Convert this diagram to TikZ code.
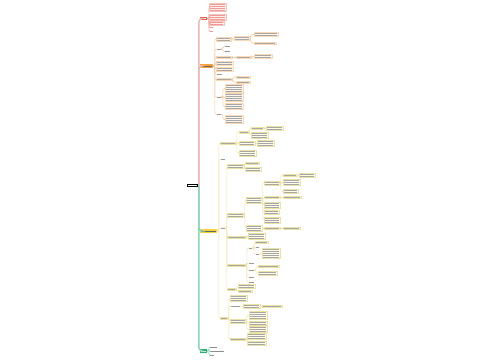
\documentclass[tikz,border=0pt]{standalone}
\usetikzlibrary{calc}
\definecolor{redm}{HTML}{E2574C}
\definecolor{redl}{HTML}{EFA9A2}
\definecolor{redf}{HTML}{FDEEEC}
\definecolor{orgm}{HTML}{F5A03A}
\definecolor{orgl}{HTML}{F6C89A}
\definecolor{orgf}{HTML}{FEF6EC}
\definecolor{yelm}{HTML}{F6D33C}
\definecolor{yell}{HTML}{EDE2A6}
\definecolor{yelf}{HTML}{FFFCEA}
\definecolor{grnm}{HTML}{2EAE6E}
\definecolor{grnl}{HTML}{8ED3B5}
\definecolor{spk}{HTML}{E9B9B3}
\newdimen\pxu \pxu=0.02cm
% unreadable text lines of a topic: #1 lines, #2 px wide
\newcommand\txl[2]{\vbox{\offinterlineskip\hbox{\rule{#2\pxu}{.5\pxu}}%
  \ifnum#1>1 \foreach\k in {2,...,#1}{\vskip1.5\pxu\hbox{\rule{#2\pxu}{.5\pxu}}}\fi}}
\tikzset{
  lf/.style={anchor=west, inner sep=.45pt, line width=.15pt},
  rootbox/.style={anchor=west, fill=black, text=white, inner sep=.6pt, minimum height=.07cm},
  mainbox/.style={anchor=west, text=black!60, inner sep=.6pt, minimum height=.07cm},
  rbox/.style={lf, fill=redf, draw=redl!70, text=redm!60},
  rpl/.style={lf, text=redm!60},
  obox/.style={lf, fill=orgf, draw=orgl!70, text=black!35},
  ybox/.style={lf, fill=yelf, draw=yell, text=black!35},
  pl/.style={lf, text=black!40},
  gpl/.style={lf, text=black!45},
  spup/.style={draw=spk, line width=.8pt, rounded corners=2pt},
  spdn/.style={draw=grnl, line width=.8pt, rounded corners=2pt},
  rln/.style={draw=redl, line width=.3pt, rounded corners=.8pt},
  oln/.style={draw=orgl, line width=.3pt, rounded corners=.8pt},
  yln/.style={draw=yell, line width=.3pt, rounded corners=.8pt},
  gln/.style={draw=grnl, line width=.3pt, rounded corners=.8pt}
}
\begin{document}
\begin{tikzpicture}[x=0.02cm,y=-0.02cm]
\useasboundingbox (0,0) rectangle (500,360);
% root and main topics
\node[rootbox] (root) at (187,185.5) {\txl{1}{9}};
\node[mainbox,fill=redm,text=white] (red) at (200,18.5) {\txl{1}{5}};
\node[mainbox,fill=orgm] (org) at (200,66) {\txl{1}{11}};
\node[mainbox,fill=yelm] (yel) at (200,231) {\txl{1}{15}};
\node[mainbox,fill=grnm,text=white] (grn) at (200,351) {\txl{1}{5}};
\draw[spup] (root.east) |- (red.west);
\draw[spup] (root.east) |- (org.west);
\draw[spdn] (root.east) |- (yel.west);
\draw[spdn] (root.east) |- (grn.west);

% red branch
\node[rbox] (r1) at (209,7) {\txl{4}{15}};
\node[rbox] (r2) at (209,17) {\txl{3}{15}};
\node[rbox] (r3) at (209,23.5) {\txl{2}{13}};
\node[rpl] (r4) at (209,27.5) {\txl{1}{3}};
\node[rpl] (r5) at (209,31) {\txl{1}{3}};
\foreach \c in {r1,r2,r3,r4,r5} \draw[rln] (red.east) -- ++(1,0) |- (\c.west);

% orange branch
\node[obox] (o1) at (216,39) {\txl{2}{13}};
\node[obox] (o1a) at (234,38.5) {\txl{2}{14}};
\node[obox] (o1a1) at (254,34.5) {\txl{2}{22}};
\node[obox] (o1a2) at (254,43) {\txl{1}{20}};
\node[pl] (o2) at (216,49) {\txl{1}{4}};
\node[pl] (o2a) at (224,46.5) {\txl{1}{5}};
\node[pl] (o2b) at (224,51.5) {\txl{1}{5}};
\node[obox] (o3) at (216,57) {\txl{1}{14}};
\node[obox] (o3a) at (236,57) {\txl{1}{13}};
\node[obox] (o3b) at (254,56.5) {\txl{2}{16}};
\node[obox] (o4) at (216,63) {\txl{2}{15}};
\node[obox] (o5) at (216,69) {\txl{2}{15}};
\node[pl] (o6) at (216,74) {\txl{1}{5}};
\node[obox] (o7) at (216,79.5) {\txl{1}{14}};
\node[obox] (o7a) at (236,77) {\txl{1}{12}};
\node[obox] (o7b) at (236,82) {\txl{1}{12}};
\node[pl] (o8) at (216,97) {\txl{1}{4}};
\node[obox] (o8a) at (225,88.5) {\txl{4}{16}};
\node[obox] (o8b) at (225,97.5) {\txl{4}{16}};
\node[obox] (o8c) at (225,106.5) {\txl{3}{16}};
\node[pl] (o9) at (216,114) {\txl{1}{4}};
\node[obox] (o9a) at (225,119.5) {\txl{4}{16}};
\foreach \c in {o1,o2,o3,o4,o5,o6,o7,o8,o9} \draw[oln] (org.east) -- ++(1,0) |- (\c.west);
\draw[oln] (o1.east) -- ++(1,0) |- (o1a.west);
\foreach \c in {o1a1,o1a2} \draw[oln] (o1a.east) -- ++(1,0) |- (\c.west);
\foreach \c in {o2a,o2b} \draw[oln] (o2.east) -- ++(1,0) |- (\c.west);
\draw[oln] (o3.east) -- (o3a.west);
\draw[oln] (o3a.east) -- ++(1,0) |- (o3b.west);
\foreach \c in {o7a,o7b} \draw[oln] (o7.east) -- ++(1,0) |- (\c.west);
\foreach \c in {o8a,o8b,o8c} \draw[oln] (o8.east) -- ++(1,0) |- (\c.west);
\draw[oln] (o9.east) -- ++(1,0) |- (o9a.west);

% yellow branch
\node[ybox] (ya) at (220,143) {\txl{1}{14}};
\node[ybox] (ya1) at (239,132) {\txl{1}{8}};
\node[ybox] (ya1a) at (251,128) {\txl{1}{11}};
\node[ybox] (ya1a1) at (266,128) {\txl{2}{15}};
\node[ybox] (ya1b) at (251,135) {\txl{3}{15}};
\node[ybox] (ya2) at (239,143.5) {\txl{2}{14}};
\node[ybox] (ya2a) at (257,143.5) {\txl{3}{15}};
\node[ybox] (ya3) at (239,153) {\txl{3}{15}};
\node[pl] (ys) at (220,159) {\txl{1}{4}};
\node[pl] (ym) at (220,228) {\txl{1}{4}};
\node[ybox] (ym1) at (227,166) {\txl{2}{15}};
\node[ybox] (ym1a) at (245,163) {\txl{1}{12}};
\node[ybox] (ym1b) at (245,169) {\txl{2}{14}};
\node[ybox] (ym2) at (227,215) {\txl{2}{15}};
\node[ybox] (ym2a) at (246,200) {\txl{3}{14}};
\node[ybox] (p1) at (264,183) {\txl{2}{14}};
\node[ybox] (p1a) at (283,175) {\txl{1}{12}};
\node[ybox] (p1a1) at (299,175) {\txl{2}{14}};
\node[ybox] (p1b) at (283,182.5) {\txl{3}{15}};
\node[ybox] (p1c) at (283,191.5) {\txl{2}{13}};
\node[ybox] (p2) at (264,197.5) {\txl{1}{14}};
\node[ybox] (p2a) at (283,197.5) {\txl{1}{16}};
\node[ybox] (p3) at (264,205) {\txl{3}{14}};
\node[ybox] (p4) at (264,212.5) {\txl{2}{13}};
\node[ybox] (p5) at (264,220) {\txl{3}{14}};
\node[ybox] (ym2b) at (246,228) {\txl{3}{14}};
\node[ybox] (ym2b1) at (264,228) {\txl{1}{14}};
\node[ybox] (ym2b2) at (283,228) {\txl{1}{15}};
\node[ybox] (ym3) at (227,237) {\txl{1}{17}};
\node[ybox] (ym3a) at (248,236.5) {\txl{3}{15}};
\node[ybox] (ym4) at (227,265) {\txl{1}{17}};
\node[pl] (q1) at (248,248) {\txl{1}{3}};
\node[ybox] (q1a) at (255,242.5) {\txl{1}{11}};
\node[pl] (q1b) at (255,247.5) {\txl{1}{3}};
\node[pl] (q1c) at (255,254) {\txl{1}{3}};
\node[ybox] (q1c1) at (262,253.5) {\txl{5}{16}};
\node[pl] (q2) at (248,263) {\txl{1}{5}};
\node[pl] (q3) at (248,270) {\txl{1}{5}};
\node[ybox] (q3a) at (258,266.5) {\txl{1}{19}};
\node[ybox] (q3b) at (258,273) {\txl{2}{17}};
\node[pl] (q4) at (248,277.5) {\txl{1}{5}};
\node[pl] (q5) at (248,282) {\txl{1}{5}};
\node[ybox] (ym5) at (227,289) {\txl{1}{7}};
\node[ybox] (ym5a) at (238,286.3) {\txl{2}{15}};
\node[ybox] (ym5b) at (238,291.3) {\txl{1}{12}};
\node[ybox] (yb) at (220,318) {\txl{1}{6}};
\node[ybox] (yb1) at (230,298) {\txl{3}{15}};
\node[pl] (yb2) at (230,306) {\txl{1}{9}};
\node[ybox] (yb2a) at (243,306) {\txl{2}{15}};
\node[ybox] (yb2b) at (262,306) {\txl{1}{18}};
\node[ybox] (yb3) at (230,321) {\txl{2}{14}};
\node[ybox] (yb3a) at (249,315) {\txl{4}{16}};
\node[ybox] (yb3b) at (249,323) {\txl{2}{16}};
\node[ybox] (yb3c) at (249,329.5) {\txl{3}{16}};
\node[ybox] (yb4) at (230,339) {\txl{1}{14}};
\node[ybox] (yb4a) at (247,336.5) {\txl{3}{17}};
\node[ybox] (yb4b) at (247,343) {\txl{2}{17}};
\foreach \c in {ya,ys,ym,yb} \draw[yln] (yel.east) -- ++(1,0) |- (\c.west);
\foreach \c in {ya1,ya2,ya3} \draw[yln] (ya.east) -- ++(1,0) |- (\c.west);
\foreach \c in {ya1a,ya1b} \draw[yln] (ya1.east) -- ++(1,0) |- (\c.west);
\draw[yln] (ya1a.east) -- (ya1a1.west);
\draw[yln] (ya2.east) -- (ya2a.west);
\foreach \c in {ym1,ym2,ym3,ym4,ym5} \draw[yln] (ym.east) -- ++(1,0) |- (\c.west);
\foreach \c in {ym1a,ym1b} \draw[yln] (ym1.east) -- ++(1,0) |- (\c.west);
\foreach \c in {ym2a,ym2b} \draw[yln] (ym2.east) -- ++(1,0) |- (\c.west);
\foreach \c in {p1,p2,p3,p4,p5} \draw[yln] (ym2a.east) -- ++(1,0) |- (\c.west);
\foreach \c in {p1a,p1b,p1c} \draw[yln] (p1.east) -- ++(1,0) |- (\c.west);
\draw[yln] (p1a.east) -- (p1a1.west);
\draw[yln] (p2.east) -- (p2a.west);
\draw[yln] (ym2b.east) -- (ym2b1.west);
\draw[yln] (ym2b1.east) -- (ym2b2.west);
\draw[yln] (ym3.east) -- ++(1,0) |- (ym3a.west);
\foreach \c in {q1,q2,q3,q4,q5} \draw[yln] (ym4.east) -- ++(1,0) |- (\c.west);
\foreach \c in {q1a,q1b,q1c} \draw[yln] (q1.east) -- ++(1,0) |- (\c.west);
\draw[yln] (q1c.east) -- ++(1,0) |- (q1c1.west);
\foreach \c in {q3a,q3b} \draw[yln] (q3.east) -- ++(1,0) |- (\c.west);
\foreach \c in {ym5a,ym5b} \draw[yln] (ym5.east) -- ++(1,0) |- (\c.west);
\foreach \c in {yb1,yb2,yb3,yb4} \draw[yln] (yb.east) -- ++(1,0) |- (\c.west);
\draw[yln] (yb2.east) -- (yb2a.west);
\draw[yln] (yb2a.east) -- (yb2b.west);
\foreach \c in {yb3a,yb3b,yb3c} \draw[yln] (yb3.east) -- ++(1,0) |- (\c.west);
\foreach \c in {yb4a,yb4b} \draw[yln] (yb4.east) -- ++(1,0) |- (\c.west);

% green branch
\node[gpl] (g1) at (209,347) {\txl{1}{7}};
\node[gpl] (g2) at (209,351) {\txl{1}{14}};
\node[gpl] (g3) at (209,355) {\txl{1}{4}};
\foreach \c in {g1,g2,g3} \draw[gln] (grn.east) -- ++(1,0) |- (\c.west);
\end{tikzpicture}
\end{document}
